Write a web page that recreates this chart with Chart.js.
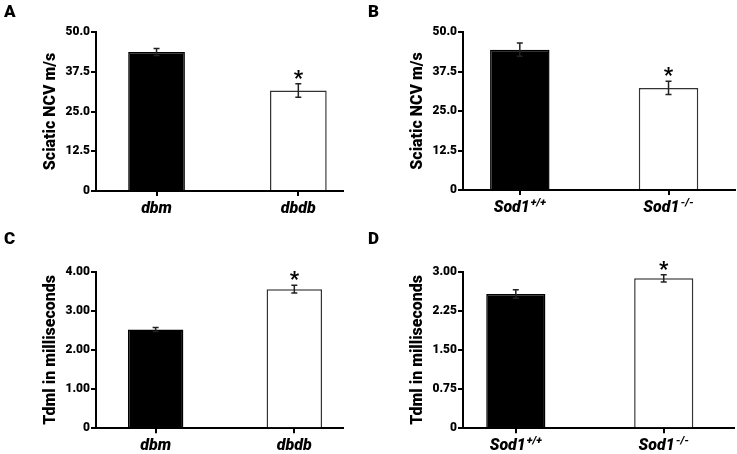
<!DOCTYPE html>
<html><head><meta charset="utf-8">
<script src="https://cdn.jsdelivr.net/npm/chart.js@4"></script>
<style>
html,body{margin:0;padding:0;background:#fff;}
#wrap{position:relative;width:737px;height:454px;overflow:hidden;}
canvas{position:absolute;}
.lbl{position:absolute;font:900 17px Roboto;line-height:1;color:#000;}
</style></head><body>
<div id="wrap">
  <canvas id="cA" style="left:0;top:0"></canvas>
  <canvas id="cB" style="left:367px;top:0"></canvas>
  <canvas id="cC" style="left:0;top:227px"></canvas>
  <canvas id="cD" style="left:367px;top:227px"></canvas>
  <div class="lbl" style="left:4px;top:3px">A</div>
  <div class="lbl" style="left:368px;top:3px">B</div>
  <div class="lbl" style="left:4px;top:230px">C</div>
  <div class="lbl" style="left:368px;top:230px">D</div>
</div>
<script>
// ---- data ----
const categoriesDb = ['dbm', 'dbdb'];
const categoriesSod = ['Sod1+/+', 'Sod1-/-'];
const ncvDb = [43.7, 31.6];
const ncvDbErr = [1.1, 2.1];
const ncvSod = [44.4, 32.3];
const ncvSodErr = [2.1, 2.1];
const tdmlDb = [2.52, 3.55];
const tdmlDbErr = [0.05, 0.10];
const tdmlSod = [2.57, 2.87];
const tdmlSodErr = [0.08, 0.07];
const significant = [false, true];
const ticksNCV = ['0', '12.5', '25.0', '37.5', '50.0'];
const ticksTdmlDb = ['0', '1.00', '2.00', '3.00', '4.00'];
const ticksTdmlSod = ['0', '0.75', '1.50', '2.25', '3.00'];
const titleNCV = 'Sciatic NCV m/s';
const titleTdml = 'Tdml in milliseconds';

const FF = 'Roboto';
const FW = '900';

function splitLabel(s) {
  const m = s.match(/^(.*\d)([+\-]\/[+\-])$/);
  return m ? [m[1], m[2]] : [s, ''];
}

function makeChart(id, w, h, cats, vals, errs, yTicks, yMax, yStep, title, xMin, xMax, padTop, padRight, xH) {
  const cv = document.getElementById(id);
  cv.width = w; cv.height = h;
  cv.style.width = w + 'px'; cv.style.height = h + 'px';
  const extras = {
    id: 'extras_' + id,
    afterDatasetsDraw(chart) {
      const ctx = chart.ctx, xs = chart.scales.x, ys = chart.scales.y;
      ctx.save();
      vals.forEach((v, i) => {
        const x = xs.getPixelForValue(i);
        const yt = ys.getPixelForValue(v + errs[i]);
        const yb = ys.getPixelForValue(v - errs[i]);
        ctx.strokeStyle = '#222'; ctx.lineWidth = 1.5;
        ctx.beginPath();
        ctx.moveTo(x, yt); ctx.lineTo(x, yb);
        ctx.moveTo(x - 3, yt); ctx.lineTo(x + 3, yt);
        ctx.moveTo(x - 3, yb); ctx.lineTo(x + 3, yb);
        ctx.stroke();
        if (significant[i]) {
          ctx.fillStyle = '#000';
          ctx.font = FW + ' 20px ' + FF;
          ctx.textAlign = 'center';
          ctx.textBaseline = 'alphabetic';
          ctx.fillText('*', x, yt + 1);
        }
      });
      // category labels (with superscript genotype)
      cats.forEach((c, i) => {
        const [base, sup] = splitLabel(c);
        const x = xs.getPixelForValue(i);
        const y = xs.top + 22;
        ctx.fillStyle = '#000';
        ctx.textBaseline = 'alphabetic';
        ctx.textAlign = 'left';
        ctx.font = 'italic ' + FW + ' 16px ' + FF;
        const wb = ctx.measureText(base).width;
        ctx.font = 'italic ' + FW + ' 11px ' + FF;
        const ws = sup ? ctx.measureText(sup).width + 1 : 0;
        const x0 = x - (wb + ws) / 2;
        ctx.font = 'italic ' + FW + ' 16px ' + FF;
        ctx.fillText(base, x0, y);
        if (sup) {
          ctx.font = 'italic ' + FW + ' 11px ' + FF;
          ctx.fillText(sup, x0 + wb + 1, y - 6);
        }
      });
      ctx.restore();
    }
  };
  return new Chart(cv, {
    type: 'bar',
    data: {
      datasets: [{
        data: vals.map((v, i) => ({ x: i, y: v })),
        backgroundColor: ['#000', '#fff'],
        borderColor: ['#000', '#333'],
        borderWidth: 1.5,
        barPercentage: 0.4,
        categoryPercentage: 1
      }]
    },
    options: {
      responsive: false,
      animation: false,
      devicePixelRatio: 1,
      layout: { padding: { left: 0, right: padRight, top: padTop, bottom: 0 } },
      plugins: { legend: { display: false }, tooltip: { enabled: false }, title: { display: false } },
      scales: {
        x: {
          type: 'linear', min: xMin, max: xMax, offset: false,
          grid: { offset: false, drawOnChartArea: false, drawTicks: true, tickLength: 5, lineWidth: 2, color: '#000' },
          border: { display: true, color: '#000', width: 2 },
          ticks: { display: false, stepSize: 1, includeBounds: false },
          afterBuildTicks: s => { s.ticks = cats.map((c, i) => ({ value: i })); },
          afterFit: s => { s.height = xH; }
        },
        y: {
          min: 0, max: yMax,
          ticks: { stepSize: yStep, color: '#000', padding: 1,
                   font: { family: FF, weight: FW, size: 12 },
                   callback: (v, i) => yTicks[i] },
          grid: { drawOnChartArea: false, drawTicks: true, tickLength: 5, lineWidth: 2, color: '#000' },
          border: { display: true, color: '#000', width: 2 },
          title: { display: true, text: title, color: '#000',
                   font: { family: FF, weight: FW, size: 16 },
                   padding: { top: 41, bottom: 0 } },
          afterFit: s => { s.width = 96; }
        }
      }
    },
    plugins: [extras]
  });
}

makeChart('cA', 367, 227, categoriesDb, ncvDb, ncvDbErr, ticksNCV, 50, 12.5, titleNCV, -0.427, 1.315, 32, 24, 36);
makeChart('cB', 370, 227, categoriesSod, ncvSod, ncvSodErr, ticksNCV, 50, 12.5, titleNCV, -0.382, 1.447, 32, 2, 37);
makeChart('cC', 367, 227, categoriesDb, tdmlDb, tdmlDbErr, ticksTdmlDb, 4, 1, titleTdml, -0.43, 1.351, 44.5, 24, 25.7);
makeChart('cD', 370, 227, categoriesSod, tdmlSod, tdmlSodErr, ticksTdmlSod, 3, 0.75, titleTdml, -0.357, 1.475, 44.5, 3, 25.7);
</script>
</body></html>
